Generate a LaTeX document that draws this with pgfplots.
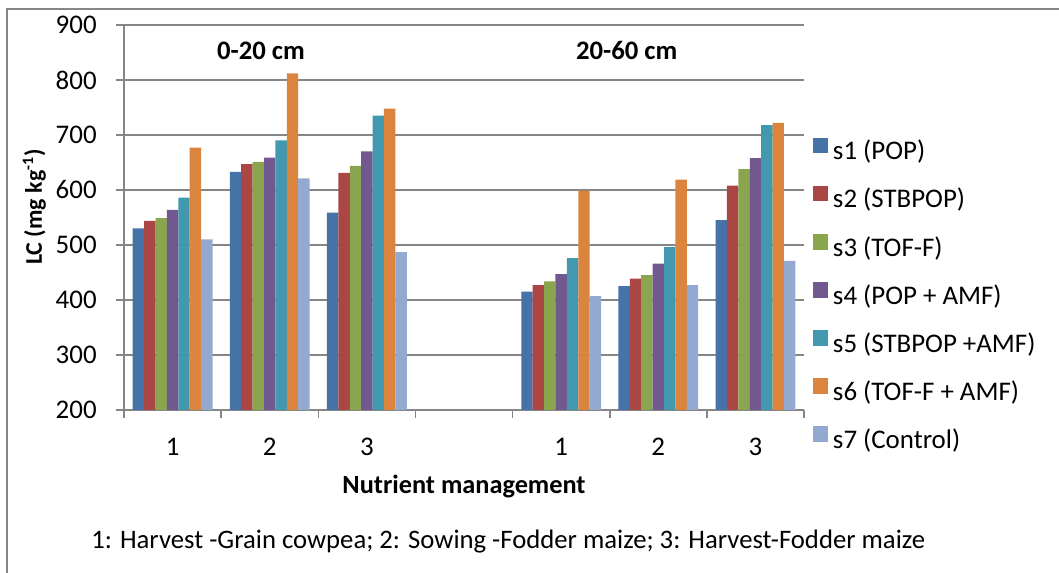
\documentclass[border=0pt]{standalone}
\usepackage{pgfplots}
\pgfplotsset{compat=1.18}
\usepackage{pgfplotstable}
\usepackage{fontspec}
\setmainfont{Carlito}

\definecolor{c1}{HTML}{4572A7}
\definecolor{c2}{HTML}{AA4643}
\definecolor{c3}{HTML}{89A54E}
\definecolor{c4}{HTML}{71588F}
\definecolor{c5}{HTML}{4198AF}
\definecolor{c6}{HTML}{DB843D}
\definecolor{c7}{HTML}{93A9CF}
\definecolor{gridgray}{HTML}{868686}

% x: 0-2 = 0-20 cm, 4-6 = 20-60 cm (3 left empty)
\pgfplotstableread{
x s1 s2 s3 s4 s5 s6 s7
0 530 544 549 564 586 677 510
1 633 647 651 659 690 812 621
2 559 631 644 670 735 748 487
4 415 427 434 447 476 599 407
5 425 439 445 466 496 619 427
6 545 608 638 658 718 722 471
}\datatable

\begin{document}
\begin{tikzpicture}
\begin{axis}[
    scale only axis, width=340bp, height=192.5bp,
    ybar=0pt, bar width=5.7bp,
    xmin=-0.5, xmax=6.5, ymin=200, ymax=900,
    xtick={0,1,2,4,5,6}, xticklabels={1,2,3,1,2,3},
    major x tick style={draw=none},
    minor xtick={-0.5,0.5,...,6.5},
    ytick={200,300,...,900},
    major tick length=4bp, minor tick length=4bp,
    tick align=outside,
    tick style={gridgray, line width=0.8bp},
    axis x line*=bottom, axis y line*=left,
    x axis line style={-, gridgray, line width=0.8bp},
    y axis line style={-, gridgray, line width=0.8bp},
    ymajorgrids, grid style={gridgray, line width=1bp},
    /pgf/number format/assume math mode=true,
    ticklabel style={font=\fontsize{13.5}{15}\selectfont},
    yticklabel style={anchor=east, inner sep=0pt, xshift=-9.5bp},
    xticklabel style={anchor=center, inner sep=0pt, yshift=-14.5bp},
    xlabel={Nutrient management},
    xlabel style={at={(axis description cs:0.5,-0.2)}, anchor=center,
        font=\bfseries\fontsize{13.2}{15}\selectfont},
    ylabel={LC (mg kg\textsuperscript{-1})},
    ylabel style={at={(axis description cs:-0.132,0.527)}, anchor=center,
        font=\bfseries\fontsize{12}{14}\selectfont},
    legend style={draw=none, fill=none, at={(axis description cs:1.0132,0.708)},
        anchor=north west, inner sep=0pt, row sep=10bp, column sep=2.5bp,
        font=\fontsize{13.5}{15}\selectfont,
        nodes={inner sep=0pt, text height=9.5bp, text depth=3bp}},
    legend cell align=left,
    legend image code/.code={\fill[#1] (0bp,0bp) rectangle (7.3bp,7.8bp);},
    clip=false,
]
\addplot[fill=c1, draw=none] table[x=x, y=s1] {\datatable};
\addplot[fill=c2, draw=none] table[x=x, y=s2] {\datatable};
\addplot[fill=c3, draw=none] table[x=x, y=s3] {\datatable};
\addplot[fill=c4, draw=none] table[x=x, y=s4] {\datatable};
\addplot[fill=c5, draw=none] table[x=x, y=s5] {\datatable};
\addplot[fill=c6, draw=none] table[x=x, y=s6] {\datatable};
\addplot[fill=c7, draw=none] table[x=x, y=s7] {\datatable};
\legend{s1 (POP), s2 (STBPOP), s3 (TOF-F), s4 (POP + AMF), s5 (STBPOP +AMF), s6 (TOF-F + AMF), s7 (Control)}

\node[font=\bfseries\fontsize{13.4}{15}\selectfont] at (axis cs:0.91,853) {0-20 cm};
\node[font=\bfseries\fontsize{13.4}{15}\selectfont] at (axis cs:4.675,853) {20-60 cm};
\node[font=\fontsize{13.4}{15}\selectfont] at (axis description cs:0.565,-0.342)
    {1: Harvest -Grain cowpea; 2: Sowing -Fodder maize; 3: Harvest-Fodder maize};
\draw[gridgray, line width=0.6bp] (axis description cs:-0.172,-0.4234) -- (axis description cs:-0.172,1.0416) -- (axis description cs:1.375,1.0416);
\coordinate (bbsw) at (axis description cs:-0.1824,-0.4234);
\coordinate (bbne) at (axis description cs:1.375,1.0649);
\end{axis}
\pgfresetboundingbox
\useasboundingbox (bbsw) rectangle (bbne);
\end{tikzpicture}
\end{document}
